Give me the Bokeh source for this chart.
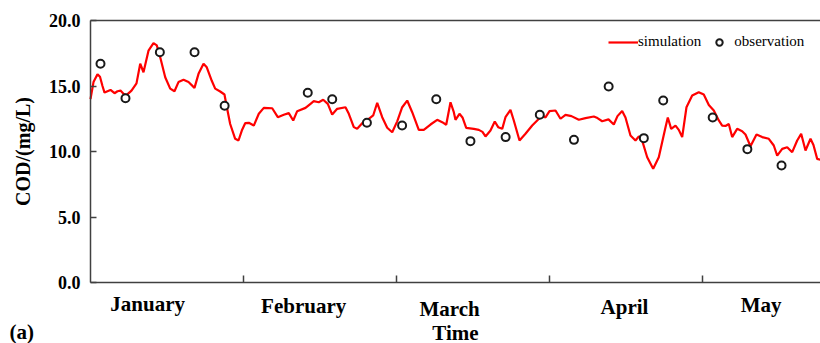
from bokeh.plotting import figure
from bokeh.models import (ColumnDataSource, Range1d, FixedTicker, Label,
                          Legend, LegendItem, NumeralTickFormatter, LinearAxis)
from bokeh.embed import file_html
from bokeh.resources import INLINE

# Simulated COD (mg/L) against day of the period (day 0 = start of January)
sim_day = [0.0, 0.59, 1.37, 1.86, 2.35, 2.75, 3.33, 3.92, 4.71, 5.29,
           5.88, 6.47, 7.06, 8.04, 9.02, 9.75, 10.39, 11.37, 12.35, 13.0,
           13.67, 14.65, 15.63, 16.47, 17.25, 18.24, 19.22, 20.39, 21.18, 22.16,
           22.8, 23.78, 24.45, 25.43, 26.27, 26.73, 27.39, 28.37, 29.02, 29.67,
           30.33, 31.04, 32.02, 33.0, 33.98, 35.63, 36.73, 37.9, 38.88, 39.75,
           40.53, 42.16, 43.14, 43.78, 44.76, 45.63, 46.53, 47.39, 48.37, 50.0,
           50.65, 51.63, 52.29, 53.27, 54.57, 55.43, 56.22, 57.2, 58.18, 59.16,
           60.14, 61.12, 62.1, 63.08, 64.37, 65.35, 66.67, 67.98, 68.96, 69.75,
           70.59, 71.24, 71.57, 72.35, 72.94, 73.67, 75.16, 76.14, 76.86, 77.45,
           78.43, 79.27, 79.94, 80.73, 81.37, 82.35, 83.0, 84.12, 85.29, 86.61,
           87.59, 88.57, 89.22, 90.0, 91.18, 92.16, 93.14, 94.31, 95.75, 97.06,
           98.69, 99.41, 100.33, 101.57, 102.61, 103.33, 104.25, 104.9, 105.88, 106.86,
           107.51, 108.04, 109.16, 110.33, 111.43, 112.75, 113.2, 113.86, 114.71, 115.35,
           116.02, 116.86, 117.98, 119.27, 120.25, 121.24, 122.22, 123.2, 123.86, 124.51,
           125.16, 125.82, 126.8, 127.78, 128.43, 129.41, 130.59, 131.71, 133.0, 133.98,
           134.65, 135.63, 136.61, 137.59, 138.57, 139.35, 140.2, 141.18, 141.76, 142.49,
           143.14]
sim_cod = [14.0, 15.3, 15.9, 15.7, 15.0, 14.5, 14.6, 14.7, 14.45, 14.6,
           14.65, 14.4, 14.3, 14.65, 15.2, 16.7, 16.05, 17.7, 18.27, 18.1,
           17.2, 15.67, 14.8, 14.6, 15.3, 15.47, 15.3, 14.86, 15.93, 16.7,
           16.43, 15.4, 14.8, 14.58, 14.35, 13.4, 12.1, 10.97, 10.84, 11.6,
           12.16, 12.19, 11.98, 12.88, 13.33, 13.3, 12.62, 12.8, 12.93, 12.37,
           13.08, 13.33, 13.64, 13.84, 13.76, 13.95, 13.64, 12.82, 13.26, 13.38,
           12.88, 11.86, 11.73, 12.16, 12.49, 12.75, 13.72, 12.62, 11.81, 11.47,
           12.3, 13.38, 13.89, 13.0, 11.65, 11.65, 12.06, 12.42, 12.24, 12.04,
           13.76, 13.0, 12.42, 12.88, 12.6, 11.81, 11.73, 11.65, 11.5, 11.15,
           11.6, 12.29, 11.86, 11.73, 12.62, 13.18, 12.37, 10.84, 11.35, 11.98,
           12.37, 12.75, 12.6, 13.08, 13.13, 12.5, 12.8, 12.7, 12.42, 12.55,
           12.67, 12.55, 12.31, 12.45, 12.06, 12.7, 13.1, 12.6, 11.22, 10.84,
           11.15, 11.0, 9.56, 8.68, 9.56, 11.86, 12.6, 11.73, 11.98, 11.65,
           11.1, 13.38, 14.27, 14.53, 14.35, 13.55, 13.13, 12.37, 11.98, 11.95,
           12.1, 11.1, 11.73, 11.55, 11.3, 10.4, 11.3, 11.1, 10.97, 10.46,
           9.69, 10.2, 10.33, 9.95, 10.84, 11.35, 10.08, 10.97, 10.5, 9.44,
           9.37]

# Weekly observed COD (mg/L)
obs_day = [1.96, 6.86, 13.6, 20.4, 26.3, 42.6, 47.4, 54.2, 61.1, 67.8,
           74.5, 81.4, 88.1, 94.8, 101.6, 108.5, 112.3, 122.0, 128.8, 135.5]
obs_cod = [16.7, 14.07, 17.58, 17.58, 13.49, 14.48, 13.99, 12.19, 11.98, 13.99,
           10.79, 11.1, 12.8, 10.89, 14.96, 11.02, 13.89, 12.6, 10.18, 8.93]

# Month names and where they sit along the day axis
months = ["January", "February", "March", "April", "May"]
month_day = [11.2, 41.8, 70.4, 104.7, 131.5]
month_lift = [40, 38, 35, 37, 39]   # label height above the page bottom, px
month_ticks = [30, 60, 90, 120]
y_ticks = [0, 5, 10, 15, 20]

DAY_END = 143.14
SERIF = "Liberation Serif"
AXIS_COL = "#404040"

# The data area spans the whole page; the axes sit at day 0 and COD 0,
# leaving room around them for the tick labels and titles.
p = figure(width=820, height=343, output_backend="svg", toolbar_location=None,
           x_range=Range1d(-17.647, DAY_END), y_range=Range1d(-4.656, 21.527),
           x_axis_location=None, y_axis_location=None,
           min_border_left=0, min_border_right=0, min_border_top=0,
           min_border_bottom=0)
p.outline_line_color = None
p.grid.visible = False
p.background_fill_color = "white"
p.border_fill_color = "white"

# y axis
ya = LinearAxis(fixed_location=0, bounds=(0, 20))
ya.ticker = FixedTicker(ticks=y_ticks)
ya.formatter = NumeralTickFormatter(format="0.0")
ya.major_tick_in = 6
ya.major_tick_out = 0
ya.minor_tick_line_color = None
ya.axis_line_color = AXIS_COL
ya.axis_line_width = 1.5
ya.major_tick_line_color = AXIS_COL
ya.major_tick_line_width = 1.5
ya.major_label_standoff = 10
ya.major_label_text_font = SERIF
ya.major_label_text_font_style = "bold"
ya.major_label_text_font_size = "18px"
ya.major_label_text_color = "black"
ya.axis_label = "COD/(mg/L)"
ya.axis_label_text_font = SERIF
ya.axis_label_text_font_style = "bold"
ya.axis_label_text_font_size = "20px"
ya.axis_label_text_color = "black"
ya.axis_label_standoff = 12
p.add_layout(ya, "left")

# x axis: month boundaries only, names drawn as labels
xa = LinearAxis(fixed_location=0, bounds=(0, DAY_END))
xa.ticker = FixedTicker(ticks=month_ticks)
xa.major_label_text_font_size = "0px"
xa.major_label_overrides = {t: "" for t in month_ticks}
xa.major_tick_in = 7
xa.major_tick_out = 0
xa.minor_tick_line_color = None
xa.axis_line_color = AXIS_COL
xa.axis_line_width = 1.5
xa.major_tick_line_color = AXIS_COL
xa.major_tick_line_width = 1.5
p.add_layout(xa, "below")

# top border of the data area
xt = LinearAxis(fixed_location=20, bounds=(0, DAY_END))
xt.ticker = FixedTicker(ticks=[])
xt.major_label_text_font_size = "0px"
xt.major_tick_line_color = None
xt.minor_tick_line_color = None
xt.axis_line_color = AXIS_COL
xt.axis_line_width = 1.5
p.add_layout(xt, "above")

src_sim = ColumnDataSource(data=dict(x=sim_day, y=sim_cod))
src_obs = ColumnDataSource(data=dict(x=obs_day, y=obs_cod))

r_sim = p.line("x", "y", source=src_sim, line_color="#ff0000", line_width=2.2)
r_obs = p.scatter("x", "y", source=src_obs, marker="circle", size=8,
                  line_color="#1a1a1a", line_width=2, fill_color="white")

legend = Legend(items=[LegendItem(label="simulation", renderers=[r_sim]),
                       LegendItem(label="observation", renderers=[r_obs])],
                orientation="horizontal", location=(608, 293),
                glyph_width=30, glyph_height=16, label_height=16,
                label_standoff=0, spacing=3, padding=0, margin=0,
                border_line_color=None, background_fill_alpha=0,
                label_text_font=SERIF, label_text_font_size="15px",
                label_text_color="black")
p.add_layout(legend)

for name, d, lift in zip(months, month_day, month_lift):
    p.add_layout(Label(x=d, y=lift, x_units="data", y_units="screen", text=name,
                       text_align="center", text_baseline="alphabetic",
                       text_font=SERIF, text_font_style="bold",
                       text_font_size="21px", text_color="black"))

p.add_layout(Label(x=455, y=11, x_units="screen", y_units="screen", text="Time",
                   text_align="center", text_baseline="alphabetic",
                   text_font=SERIF, text_font_style="bold",
                   text_font_size="21px", text_color="black"))
p.add_layout(Label(x=9, y=12, x_units="screen", y_units="screen", text="(a)",
                   text_align="left", text_baseline="alphabetic",
                   text_font=SERIF, text_font_style="bold",
                   text_font_size="21px", text_color="black"))

open("out.html", "w").write(file_html(p, INLINE))
